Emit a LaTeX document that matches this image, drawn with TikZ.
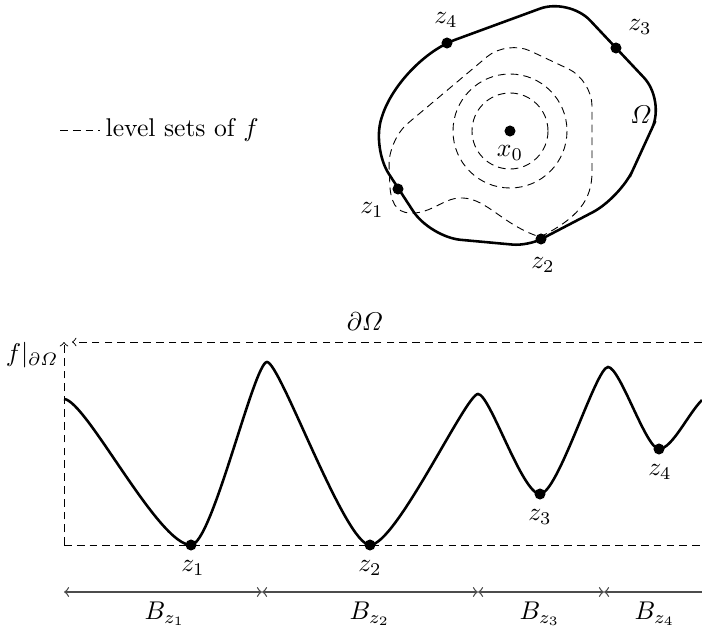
\documentclass[tikz,border=0pt]{standalone}
\usepackage{amsmath,amssymb}
\usetikzlibrary{arrows, positioning, calc}

\begin{document}
\begin{tikzpicture}[
    x=0.39pt, y=-0.39pt,
    dot/.style={circle, fill, inner sep=0pt, minimum size=4.3pt},
    bdry/.style={line width=1pt},
    level/.style={dash pattern=on 3pt off 2pt, line width=0.35pt},
    axis/.style={dash pattern=on 3pt off 2pt, line width=0.35pt},
    interval/.style={<->, line width=0.5pt, black!70}
]
    \useasboundingbox (0,0) rectangle (702,631);

    % Domain Omega
    \coordinate (tp) at (569,-2);
    \coordinate (rt) at (665,100);
    \coordinate (br) at (620,198);
    \coordinate (bt) at (528,246);
    \coordinate (bl) at (430,237);
    \coordinate (lf) at (372,148);
    \coordinate (ul) at (400,60);
    \draw[bdry, rounded corners=12pt] ($(rt)!0.5!(br)$) -- (br)
        [rounded corners=6pt] -- (bt) [rounded corners=12pt] -- (bl) -- (lf)
        [rounded corners=23pt] -- (ul) [rounded corners=12pt] -- (tp) -- (rt)
        -- cycle;

    % Level sets
    \draw[level] (510,131) circle (38);
    \draw[level] (510,131) circle (57);
    \draw[level] (540,237) .. controls (578,218) and (592,200) .. (592,172)
        [rounded corners=10pt] -- (592,80) -- (507,40) -- (388,140)
        [sharp corners] -- (390,188)
        .. controls (392,208) and (400,214) .. (415,213)
        .. controls (435,211) and (445,197) .. (463,198)
        .. controls (487,199) and (503,225) .. (540,237);

    % Points on the boundary
    \node[dot] (z1) at (398,189) {};
    \node[dot] (z2) at (541,239) {};
    \node[dot] (z3) at (616,48) {};
    \node[dot] (z4) at (447,43) {};
    \node[dot] (x0) at (510,131) {};
    \node at ($(z1)+(-26,21)$) {$z_1$};
    \node at ($(z2)+(2,26)$) {$z_2$};
    \node at ($(z3)+(24,-21)$) {$z_3$};
    \node at ($(z4)+(-1,-23)$) {$z_4$};
    \node at ($(x0)+(0,22)$) {$x_0$};
    \node (omega) at (641,115) {$\varOmega$};

    % Legend
    \coordinate (lg1) at (60,130);
    \coordinate (lg2) at (100,130);
    \draw[level] (lg1) -- (lg2);
    \node[right=0pt of lg2, inner sep=2pt] (legend) {level sets of $f$};

    % Axes
    \coordinate (O) at (64,545);
    \coordinate (ytop) at (64,342);
    \coordinate (xend) at (702,545);
    \coordinate (tr) at (702,342);
    \coordinate (tl) at (72,342);
    \draw[axis] (O) -- (xend);
    \draw[axis, ->] (O) -- (ytop);
    \draw[axis, ->] (tr) -- (tl);
    \node (bd) at (365,322) {$\partial\varOmega$};
    \node (flabel) at (32,355) {$f|_{\partial\varOmega}$};

    % Minima and maxima of f on the boundary
    \node[dot] (m1) at (191,545) {};
    \node[dot] (m2) at (370,545) {};
    \node[dot] (m3) at (540,494) {};
    \node[dot] (m4) at (659,449) {};
    \coordinate (s) at (64,399);
    \coordinate (p1) at (267,362);
    \coordinate (p2) at (478,394);
    \coordinate (p3) at (608,367);
    \coordinate (e) at (702,400);

    \draw[bdry] (s) .. controls (86,400) and (158,545) .. (m1.center)
        .. controls (212,545) and (254,362) .. (p1)
        .. controls (280,362) and (345,545) .. (m2.center)
        .. controls (396,545) and (466,394) .. (p2)
        .. controls (490,394) and (522,494) .. (m3.center)
        .. controls (558,494) and (596,367) .. (p3)
        .. controls (620,367) and (646,449) .. (m4.center)
        .. controls (672,449) and (688,414) .. (e);

    \node at ($(m1)+(2,23)$) {$z_1$};
    \node at ($(m2)+(0,23)$) {$z_2$};
    \node at ($(m3)+(0,23)$) {$z_3$};
    \node at ($(m4)+(1,23)$) {$z_4$};

    % Basins
    \coordinate (b0) at (64,592);
    \coordinate (b1) at (262,592);
    \coordinate (b2) at (478,592);
    \coordinate (b3) at (604,592);
    \coordinate (b4) at (702,592);
    \draw[interval] (b0) -- (b1);
    \draw[interval] (b1) -- (b2);
    \draw[interval] (b2) -- (b3);
    \draw[interval, <-] (b3) -- (b4);
    \node at (165,614) {$B_{z_1}$};
    \node at (370,614) {$B_{z_2}$};
    \node at (540,614) {$B_{z_3}$};
    \node at (655,614) {$B_{z_4}$};
\end{tikzpicture}
\end{document}
